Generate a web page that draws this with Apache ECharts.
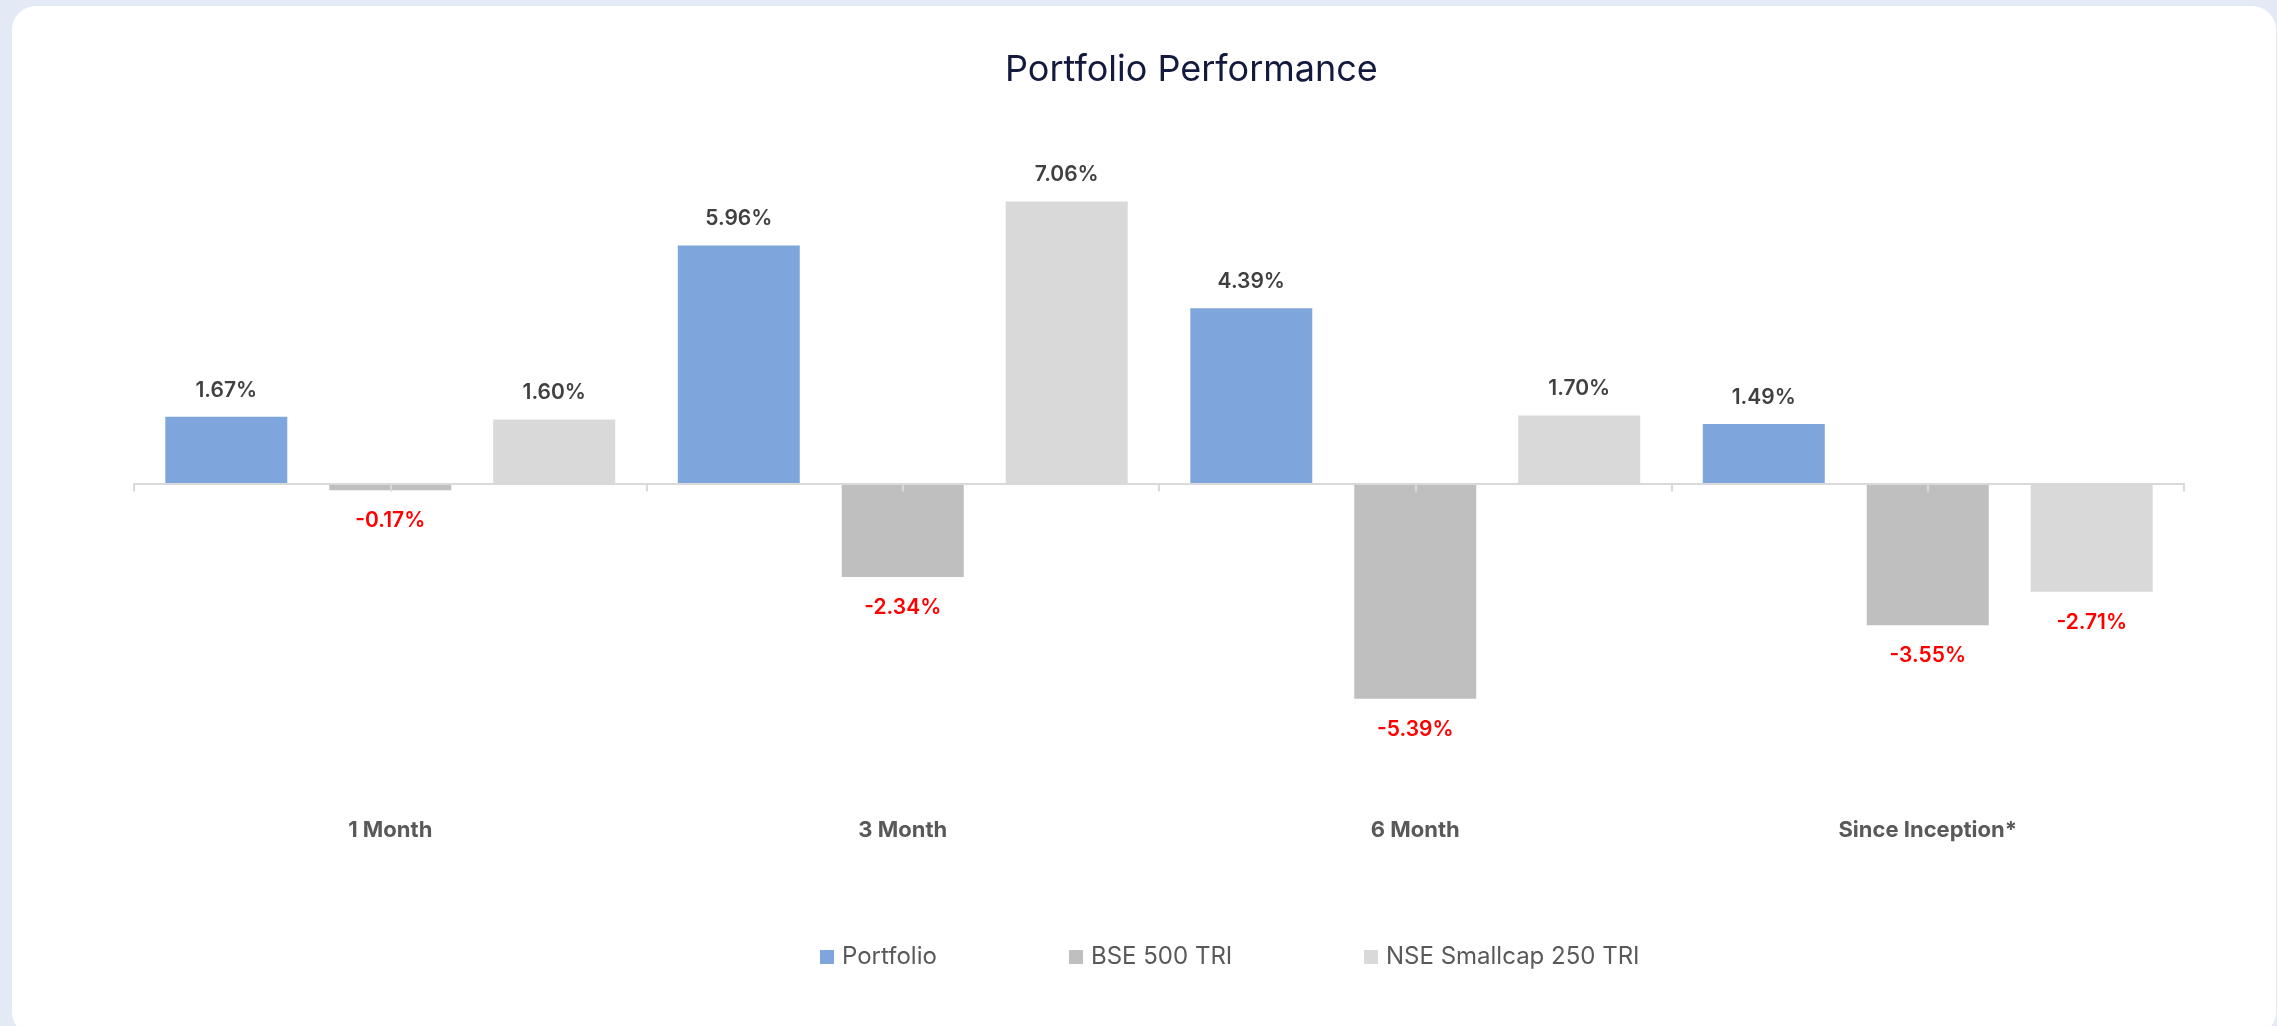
<!DOCTYPE html>
<html>
<head>
<meta charset="utf-8">
<script src="https://cdn.jsdelivr.net/npm/echarts@6/dist/echarts.min.js"></script>
<style>
  html, body { margin: 0; padding: 0; width: 2277px; height: 1026px; background: #e4eaf5; overflow: hidden; }
  #card { position: absolute; left: 12px; top: 6px; width: 2264px; height: 1030px; background: #ffffff; border-radius: 24px; }
  #chart { position: absolute; left: 0; top: 0; width: 2277px; height: 1026px; }
</style>
</head>
<body>
<div id="card"></div>
<div id="chart"></div>
<script>
const categories = ['1 Month', '3 Month', '6 Month', 'Since Inception*'];
const seriesNames = ['Portfolio', 'BSE 500 TRI', 'NSE Smallcap 250 TRI'];
const portfolio = [1.67, 5.96, 4.39, 1.49];
const bse500 = [-0.17, -2.34, -5.39, -3.55];
const nseSmallcap = [1.60, 7.06, 1.70, -2.71];
const colors = ['#7ea6dc', '#bfbfbf', '#d9d9d9'];

const FONT = 'Inter, "Noto Sans", sans-serif';

function mkSeries(name, data, color) {
  return {
    name: name,
    type: 'bar',
    xAxisIndex: 1,
    data: data.map(v => ({
      value: v,
      label: {
        position: v >= 0 ? 'top' : 'bottom',
        distance: v >= 0 ? 16 : 20,
        color: v >= 0 ? '#404040' : '#ff0000'
      }
    })),
    barWidth: 122,
    barGap: '34.4%',
    itemStyle: { color: color },
    label: {
      show: true,
      fontFamily: FONT,
      fontSize: 21,
      fontWeight: 600,
      formatter: p => p.value.toFixed(2) + '%'
    }
  };
}

// half-category slots so the zero-line ticks fall on boundaries and centres
const tickSlots = categories.flatMap(c => [c + ' a', c + ' b']);

const legendLefts = [815, 1064, 1359];

const chart = echarts.init(document.getElementById('chart'), null, { renderer: 'canvas' });
chart.setOption({
  backgroundColor: 'transparent',
  animation: false,
  title: {
    text: 'Portfolio Performance',
    left: 1000,
    top: 47,
    textStyle: { fontFamily: FONT, fontSize: 36, fontWeight: 400, color: '#131a3d' }
  },
  legend: seriesNames.map((n, i) => ({
    data: [n],
    left: legendLefts[i],
    top: 940,
    icon: 'rect',
    itemWidth: 14,
    itemHeight: 14,
    textStyle: { fontFamily: FONT, fontSize: 24, color: '#595959', padding: [0, 0, 0, 3] }
  })),
  grid: { left: 134, top: 164, width: 2050, height: 639, containLabel: false },
  xAxis: [
    {
      type: 'category', data: tickSlots, position: 'bottom', z: 5,
      axisLine: { onZero: true, lineStyle: { color: '#d9d9d9', width: 2 } },
      axisTick: { show: true, length: 8, lineStyle: { color: '#d9d9d9', width: 2 } },
      axisLabel: { show: false }
    },
    {
      type: 'category', data: categories, position: 'bottom',
      axisLine: { show: false, onZero: false },
      axisTick: { show: false },
      axisLabel: { show: true, margin: 16, fontFamily: FONT, fontSize: 22, fontWeight: 700, color: '#595959' }
    }
  ],
  yAxis: {
    type: 'value', min: -8, max: 8, interval: 2, show: false,
    splitLine: { show: false }
  },
  series: [
    mkSeries(seriesNames[0], portfolio, colors[0]),
    mkSeries(seriesNames[1], bse500, colors[1]),
    mkSeries(seriesNames[2], nseSmallcap, colors[2])
  ]
});
</script>
</body>
</html>
